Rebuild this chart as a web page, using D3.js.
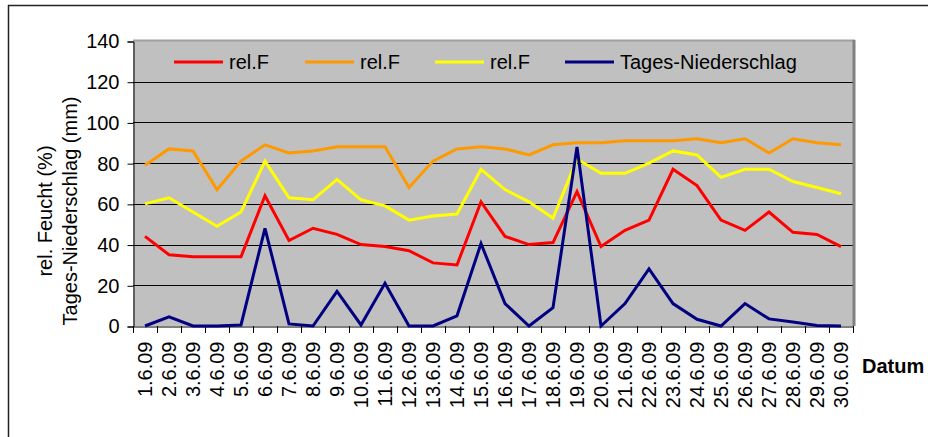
<!DOCTYPE html>
<html><head><meta charset="utf-8">
<script src="https://cdn.jsdelivr.net/npm/d3@7"></script>
<style>html,body{margin:0;padding:0;background:#fff;}svg{display:block;font-family:"Liberation Sans",Arial,sans-serif;}</style>
</head><body>
<svg id="c" width="933" height="437"></svg>
<script>
const dates = ["1.6.09","2.6.09","3.6.09","4.6.09","5.6.09","6.6.09","7.6.09","8.6.09","9.6.09","10.6.09","11.6.09","12.6.09","13.6.09","14.6.09","15.6.09","16.6.09","17.6.09","18.6.09","19.6.09","20.6.09","21.6.09","22.6.09","23.6.09","24.6.09","25.6.09","26.6.09","27.6.09","28.6.09","29.6.09","30.6.09"];
const relF1 = [44,35,34,34,34,64,42,48,45,40,39,37,31,30,61,44,40,41,66,39,47,52,77,69,52,47,56,46,45,39];
const relF2 = [79,87,86,67,81,89,85,86,88,88,88,68,81,87,88,87,84,89,90,90,91,91,91,92,90,92,85,92,90,89];
const relF3 = [60,63,56,49,56,81,63,62,72,62,59,52,54,55,77,67,61,53,82,75,75,80,86,84,73,77,77,71,68,65];
const niederschlag = [0,4.5,0,0,0.5,48,1,0,17,0.5,21,0,0,5,40.5,11,0,9,88,0,11,28,11,3.3,0,11,3.5,2,0.3,0];
const yTicks = [0,20,40,60,80,100,120,140];
const seriesNames = ["rel.F","rel.F","rel.F","Tages-Niederschlag"];
const seriesColors = ["#FF0000","#FF9900","#FFFF00","#000080"];
const seriesData = [relF1, relF2, relF3, niederschlag];

const svg = d3.select("#c");
const L = 133, R = 853, T = 41, B = 326;
const x = d3.scaleBand().domain(dates).range([L, R]).padding(0);
const y = d3.scaleLinear().domain([0, 140]).range([B, T]);
const cx = d => x(d) + x.bandwidth() / 2;

// outer frame (partially visible)
svg.append("line").attr("x1", 8).attr("x2", 928).attr("y1", 5.5).attr("y2", 5.5).attr("stroke", "#222").attr("stroke-width", 1.5);
svg.append("line").attr("x1", 8.5).attr("x2", 8.5).attr("y1", 5).attr("y2", 437).attr("stroke", "#222").attr("stroke-width", 1.5);

// plot area
svg.append("rect").attr("x", L).attr("y", T).attr("width", R - L).attr("height", B - T).attr("fill", "#C0C0C0");

// gridlines
svg.append("g").selectAll("line").data(yTicks.filter(v => v > 0 && v < 140)).join("line")
  .attr("x1", L).attr("x2", R).attr("y1", d => Math.round(y(d)) + 0.5).attr("y2", d => Math.round(y(d)) + 0.5)
  .attr("stroke", "#000").attr("stroke-width", 1);

// plot border top/right
svg.append("line").attr("x1", L).attr("x2", R + 2).attr("y1", T - 0.5).attr("y2", T - 0.5).attr("stroke", "#A0A0A0").attr("stroke-width", 2);
svg.append("line").attr("x1", R + 1).attr("x2", R + 1).attr("y1", T - 1).attr("y2", B).attr("stroke", "#808080").attr("stroke-width", 3);

// y axis
const yAxis = d3.axisLeft(y).tickValues(yTicks).tickSize(6).tickPadding(8);
const gy = svg.append("g").attr("transform", `translate(${L + 0.5},0.5)`).call(yAxis);
gy.select(".domain").attr("stroke", "#000");
gy.selectAll(".tick line").attr("stroke", "#000");
gy.selectAll("text").attr("font-size", 20).attr("fill", "#000").attr("font-family", "Liberation Sans, Arial, sans-serif");

// x axis
const xAxis = d3.axisBottom(x).tickSize(0).tickPadding(0);
const gx = svg.append("g").attr("transform", `translate(0,${B + 0.5})`).call(xAxis);
gx.select(".domain").attr("stroke", "#000");
gx.selectAll("text").attr("font-size", 20).attr("fill", "#000").attr("font-family", "Liberation Sans, Arial, sans-serif")
  .attr("transform", "rotate(-90)").attr("text-anchor", "end").attr("dx", "-15").attr("dy", "0.35em").attr("y", 0);
svg.append("g").selectAll("line").data(dates.map(d => x(d)).concat([R])).join("line")
  .attr("x1", d => Math.round(d) + 0.5).attr("x2", d => Math.round(d) + 0.5).attr("y1", B).attr("y2", B + 7)
  .attr("stroke", "#000");

// series lines
const line = d3.line().x((v, i) => cx(dates[i])).y(v => y(v));
svg.append("g").selectAll("path").data(seriesData).join("path")
  .attr("d", d => line(d)).attr("fill", "none")
  .attr("stroke", (d, i) => seriesColors[i]).attr("stroke-width", 3).attr("stroke-linejoin", "miter");

// legend
const legX = [174, 305, 435, 565];
const lg = svg.append("g").selectAll("g").data(seriesNames).join("g")
  .attr("transform", (d, i) => `translate(${legX[i]},62)`);
lg.append("line").attr("x1", 0).attr("x2", 49).attr("y1", 0).attr("y2", 0)
  .attr("stroke", (d, i) => seriesColors[i]).attr("stroke-width", 3);
lg.append("text").attr("x", 55).attr("y", 7).attr("font-size", 20).attr("fill", "#000").text(d => d);

// axis titles
const yt = svg.append("text").attr("transform", "translate(0,211) rotate(-90)").attr("text-anchor", "middle")
  .attr("font-size", 20).attr("fill", "#000");
yt.append("tspan").attr("x", 0).attr("y", 52).text("rel. Feucht (%)");
yt.append("tspan").attr("x", 0).attr("y", 77).text("Tages-Niederschlag (mm)");

svg.append("text").attr("x", 862).attr("y", 373).attr("font-size", 20).attr("font-weight", "bold").attr("fill", "#000").text("Datum");
</script>
</body></html>
